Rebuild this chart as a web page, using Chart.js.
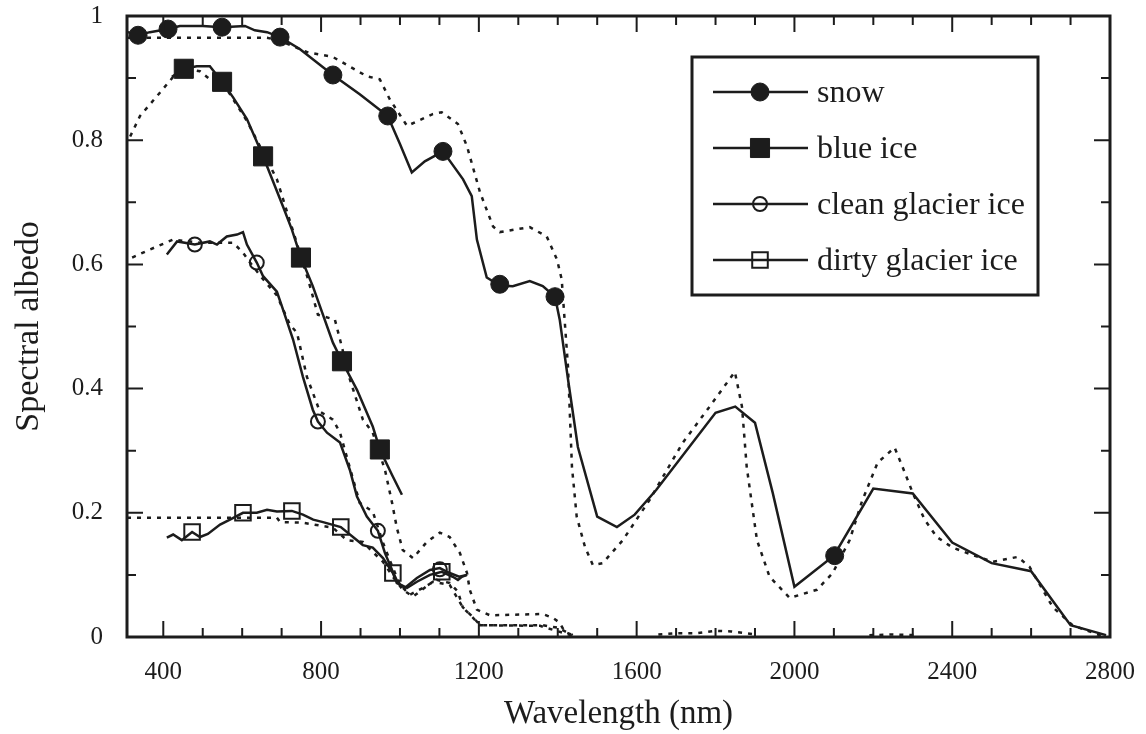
<!DOCTYPE html>
<html>
<head>
<meta charset="utf-8">
<script src="https://cdn.jsdelivr.net/npm/chart.js@4.4.1/dist/chart.umd.min.js"></script>
<style>
  html, body { margin: 0; padding: 0; background: #fff; }
  #wrap { width: 1146px; height: 734px; }
</style>
</head>
<body>
<div id="wrap"><canvas id="chart"></canvas></div>
<script>
// wavelength (nm) and albedo
const snowWl = [310, 336, 366, 412, 442, 500, 549, 607, 632, 663, 696, 746, 830, 898, 969, 1000, 1030, 1063, 1109, 1160, 1182, 1195, 1220, 1253, 1286, 1329, 1362, 1393, 1405, 1426, 1451, 1500, 1550, 1595, 1650, 1800, 1850, 1900, 1945, 2000, 2100, 2200, 2300, 2400, 2500, 2600, 2700, 2790];
const snowAlb = [0.974, 0.969, 0.974, 0.979, 0.984, 0.984, 0.982, 0.984, 0.977, 0.974, 0.966, 0.947, 0.905, 0.874, 0.839, 0.794, 0.748, 0.766, 0.782, 0.737, 0.710, 0.640, 0.579, 0.566, 0.565, 0.573, 0.565, 0.548, 0.511, 0.415, 0.306, 0.194, 0.177, 0.197, 0.237, 0.361, 0.371, 0.345, 0.232, 0.081, 0.131, 0.239, 0.231, 0.152, 0.119, 0.106, 0.019, 0.003];
const snowMarkWl = [336, 412, 549, 696, 830, 969, 1109, 1253, 1393, 2102];
const snowMarkAlb = [0.969, 0.979, 0.982, 0.966, 0.905, 0.839, 0.782, 0.568, 0.548, 0.131];
const snowModelWl = [308, 500, 663, 696, 764, 830, 916, 949, 974, 1018, 1083, 1106, 1147, 1170, 1203, 1236, 1253, 1329, 1372, 1398, 1410, 1426, 1436, 1448, 1469, 1489, 1514, 1565, 1633, 1717, 1785, 1849, 1867, 1879, 1905, 1937, 1988, 2057, 2097, 2140, 2171, 2211, 2254, 2274, 2300, 2330, 2361, 2401, 2452, 2503, 2566, 2596, 2655, 2705, 2786];
const snowModelAlb = [0.965, 0.965, 0.965, 0.960, 0.942, 0.934, 0.903, 0.898, 0.866, 0.823, 0.842, 0.845, 0.826, 0.790, 0.716, 0.661, 0.652, 0.660, 0.645, 0.608, 0.576, 0.435, 0.274, 0.194, 0.145, 0.116, 0.119, 0.156, 0.221, 0.313, 0.371, 0.427, 0.371, 0.274, 0.156, 0.097, 0.063, 0.076, 0.103, 0.156, 0.218, 0.281, 0.305, 0.274, 0.232, 0.189, 0.161, 0.144, 0.132, 0.121, 0.129, 0.113, 0.048, 0.019, 0.0];

const blueWl = [422, 452, 485, 518, 549, 577, 612, 653, 663, 703, 726, 749, 779, 830, 853, 891, 931, 949, 980, 1005];
const blueAlb = [0.902, 0.915, 0.919, 0.919, 0.894, 0.869, 0.834, 0.774, 0.758, 0.694, 0.656, 0.611, 0.565, 0.474, 0.444, 0.398, 0.339, 0.302, 0.261, 0.229];
const blueMarkWl = [452, 549, 653, 749, 853, 949];
const blueMarkAlb = [0.915, 0.894, 0.774, 0.611, 0.444, 0.302];
const blueModelWl = [316, 341, 384, 425, 460, 493, 518, 549, 612, 688, 767, 792, 835, 848, 873, 906, 931, 962, 980, 992, 1007, 1033, 1068, 1101, 1126, 1152, 1170, 1177, 1195, 1228, 1362, 1387, 1405, 1418, 1443, 1550, 1655, 1700, 1750, 1800, 1840, 1880, 1905, 2050, 2190, 2250, 2310];
const blueModelAlb = [0.806, 0.839, 0.871, 0.902, 0.915, 0.911, 0.898, 0.894, 0.831, 0.737, 0.576, 0.519, 0.511, 0.479, 0.415, 0.350, 0.329, 0.269, 0.216, 0.176, 0.140, 0.127, 0.153, 0.168, 0.161, 0.135, 0.103, 0.076, 0.044, 0.035, 0.037, 0.031, 0.023, 0.008, 0.002, null, 0.004, 0.006, 0.006, 0.010, 0.009, 0.006, 0.004, null, 0.003, 0.004, 0.003];

const cleanWl = [409, 435, 480, 518, 536, 561, 587, 602, 612, 637, 653, 688, 701, 729, 754, 779, 792, 815, 848, 873, 891, 916, 944, 962, 980, 995, 1012, 1043, 1076, 1101, 1126, 1150, 1170];
const cleanAlb = [0.616, 0.637, 0.632, 0.637, 0.632, 0.645, 0.648, 0.652, 0.632, 0.603, 0.581, 0.556, 0.532, 0.479, 0.419, 0.366, 0.347, 0.329, 0.313, 0.269, 0.226, 0.194, 0.171, 0.135, 0.108, 0.087, 0.079, 0.095, 0.108, 0.111, 0.103, 0.097, 0.100];
const cleanMarkWl = [480, 637, 792, 944, 1101];
const cleanMarkAlb = [0.632, 0.603, 0.347, 0.171, 0.109];
const cleanModelWl = [321, 366, 425, 493, 577, 602, 620, 653, 688, 721, 739, 764, 797, 830, 848, 898, 931, 957, 974, 1000, 1025, 1058, 1093, 1126, 1147, 1159, 1185, 1203, 1362, 1400, 1438];
const cleanModelAlb = [0.611, 0.624, 0.640, 0.635, 0.635, 0.619, 0.603, 0.576, 0.550, 0.503, 0.490, 0.419, 0.363, 0.350, 0.329, 0.216, 0.202, 0.152, 0.124, 0.084, 0.068, 0.079, 0.092, 0.087, 0.073, 0.048, 0.032, 0.019, 0.019, 0.015, 0.003];

const dirtyWl = [409, 425, 447, 473, 493, 513, 544, 569, 602, 637, 663, 688, 726, 754, 780, 805, 850, 906, 931, 957, 982, 992, 1018, 1043, 1076, 1106, 1134, 1147, 1157, 1170];
const dirtyAlb = [0.160, 0.165, 0.156, 0.169, 0.161, 0.166, 0.181, 0.189, 0.200, 0.200, 0.205, 0.202, 0.203, 0.197, 0.189, 0.185, 0.177, 0.148, 0.144, 0.127, 0.103, 0.087, 0.079, 0.089, 0.100, 0.105, 0.097, 0.092, 0.097, 0.100];
const dirtyMarkWl = [473, 602, 726, 850, 982, 1106];
const dirtyMarkAlb = [0.169, 0.200, 0.203, 0.177, 0.103, 0.105];
const dirtyModelWl = [308, 688, 696, 754, 830, 865, 906, 931, 957, 982, 1007, 1033, 1083, 1126, 1159, 1203, 1355, 1438];
const dirtyModelAlb = [0.192, 0.192, 0.185, 0.184, 0.176, 0.156, 0.153, 0.137, 0.121, 0.097, 0.076, 0.065, 0.089, 0.084, 0.048, 0.019, 0.018, 0.002];

const legendLabels = ["snow", "blue ice", "clean glacier ice", "dirty glacier ice"];
const xTicks = [400, 800, 1200, 1600, 2000, 2400, 2800];
const yTicks = [0, 0.2, 0.4, 0.6, 0.8, 1];

const ink = "#1c1c1c";
const serif = "'Liberation Serif', 'Times New Roman', serif";

const pts = (xs, ys) => xs.map((x, i) => ({x: x, y: ys[i]}));

const markerStyles = [
    {pointStyle: "circle", radius: 9, fill: ink, borderWidth: 1},
    {pointStyle: "rect", radius: 13.5, fill: ink, borderWidth: 1},
    {pointStyle: "circle", radius: 7, fill: "rgba(0,0,0,0)", borderWidth: 2},
    {pointStyle: "rect", radius: 11, fill: "rgba(0,0,0,0)", borderWidth: 2}
];

function solid(data) {
    return {data: data, borderColor: ink, borderWidth: 2.5, pointRadius: 0, order: 2, spanGaps: false};
}
function dotted(data) {
    return {data: data, borderColor: ink, borderWidth: 2.5, borderDash: [4, 6], pointRadius: 0, order: 3, spanGaps: false};
}
function marks(data, i) {
    const s = markerStyles[i];
    return {
        data: data, showLine: false, order: 1,
        pointStyle: s.pointStyle, pointRadius: s.radius, pointHoverRadius: s.radius,
        pointBackgroundColor: s.fill, pointBorderColor: ink, pointBorderWidth: s.borderWidth
    };
}

function drawMarker(ctx, s, x, y) {
    ctx.beginPath();
    if (s.pointStyle === "circle") {
        ctx.arc(x, y, s.radius, 0, Math.PI * 2);
    } else {
        const h = Math.SQRT1_2 * s.radius;
        ctx.rect(x - h, y - h, 2 * h, 2 * h);
    }
    ctx.fillStyle = s.fill;
    ctx.fill();
    ctx.lineWidth = s.borderWidth;
    ctx.strokeStyle = ink;
    ctx.stroke();
}

// frame, inward ticks on all four sides, and the boxed legend
const framePlugin = {
    id: "frame",
    afterDraw(chart) {
        const {ctx, chartArea: a, scales: {x, y}} = chart;
        ctx.save();
        ctx.strokeStyle = ink;
        ctx.lineWidth = 2;
        ctx.beginPath();
        for (let v = 400; v < 2800; v += 100) {
            const px = x.getPixelForValue(v);
            const len = xTicks.includes(v) ? 16 : 9;
            ctx.moveTo(px, a.bottom); ctx.lineTo(px, a.bottom - len);
            ctx.moveTo(px, a.top); ctx.lineTo(px, a.top + len);
        }
        for (let k = 1; k < 10; k++) {
            const py = y.getPixelForValue(k / 10);
            const len = k % 2 === 0 ? 16 : 9;
            ctx.moveTo(a.left, py); ctx.lineTo(a.left + len, py);
            ctx.moveTo(a.right, py); ctx.lineTo(a.right - len, py);
        }
        ctx.stroke();
        ctx.lineWidth = 3;
        ctx.strokeRect(a.left, a.top, a.right - a.left, a.bottom - a.top);

        // legend
        const lx = 692, ly = 57, lw = 346, lh = 238;
        ctx.fillStyle = "#fff";
        ctx.fillRect(lx, ly, lw, lh);
        ctx.lineWidth = 3;
        ctx.strokeRect(lx, ly, lw, lh);
        ctx.font = "32px " + serif;
        ctx.textBaseline = "alphabetic";
        legendLabels.forEach((label, i) => {
            const cy = 92 + i * 56;
            ctx.lineWidth = 2.5;
            ctx.strokeStyle = ink;
            ctx.beginPath();
            ctx.moveTo(713, cy); ctx.lineTo(808, cy);
            ctx.stroke();
            drawMarker(ctx, markerStyles[i], 760, cy);
            ctx.fillStyle = ink;
            ctx.fillText(label, 817, cy + 10);
        });
        ctx.restore();
    }
};

const ctx = document.getElementById("chart").getContext("2d");
new Chart(ctx, {
    type: "line",
    data: {
        datasets: [
            marks(pts(snowMarkWl, snowMarkAlb), 0),
            marks(pts(blueMarkWl, blueMarkAlb), 1),
            marks(pts(cleanMarkWl, cleanMarkAlb), 2),
            marks(pts(dirtyMarkWl, dirtyMarkAlb), 3),
            solid(pts(snowWl, snowAlb)),
            solid(pts(blueWl, blueAlb)),
            solid(pts(cleanWl, cleanAlb)),
            solid(pts(dirtyWl, dirtyAlb)),
            dotted(pts(snowModelWl, snowModelAlb)),
            dotted(pts(blueModelWl, blueModelAlb)),
            dotted(pts(cleanModelWl, cleanModelAlb)),
            dotted(pts(dirtyModelWl, dirtyModelAlb))
        ]
    },
    options: {
        responsive: true,
        maintainAspectRatio: false,
        animation: false,
        layout: {padding: {left: 0, right: 36, top: 16, bottom: 0}},
        plugins: {legend: {display: false}, tooltip: {enabled: false}},
        elements: {line: {tension: 0}},
        scales: {
            x: {
                type: "linear",
                min: 308,
                max: 2800,
                afterFit: s => { s.height = 97; s.paddingLeft = 0; s.paddingRight = 0; },
                afterBuildTicks: s => { s.ticks = xTicks.map(v => ({value: v})); },
                grid: {display: false, drawTicks: false},
                border: {display: false},
                ticks: {color: ink, font: {family: serif, size: 25}, padding: 20, maxRotation: 0, autoSkip: false, callback: v => String(v)},
                title: {display: true, text: "Wavelength (nm)", color: ink, font: {family: serif, size: 33}, padding: {top: 0, bottom: 0}}
            },
            y: {
                type: "linear",
                min: 0,
                max: 1,
                afterFit: s => { s.width = 127; s.paddingTop = 0; s.paddingBottom = 0; },
                afterBuildTicks: s => { s.ticks = yTicks.map(v => ({value: v})); },
                grid: {display: false, drawTicks: false},
                border: {display: false},
                ticks: {color: ink, font: {family: serif, size: 25}, padding: 24, callback: v => String(v)},
                title: {display: true, text: "Spectral albedo", color: ink, font: {family: serif, size: 34}, padding: {top: 9, bottom: 0}}
            }
        }
    },
    plugins: [framePlugin]
});
</script>
</body>
</html>
